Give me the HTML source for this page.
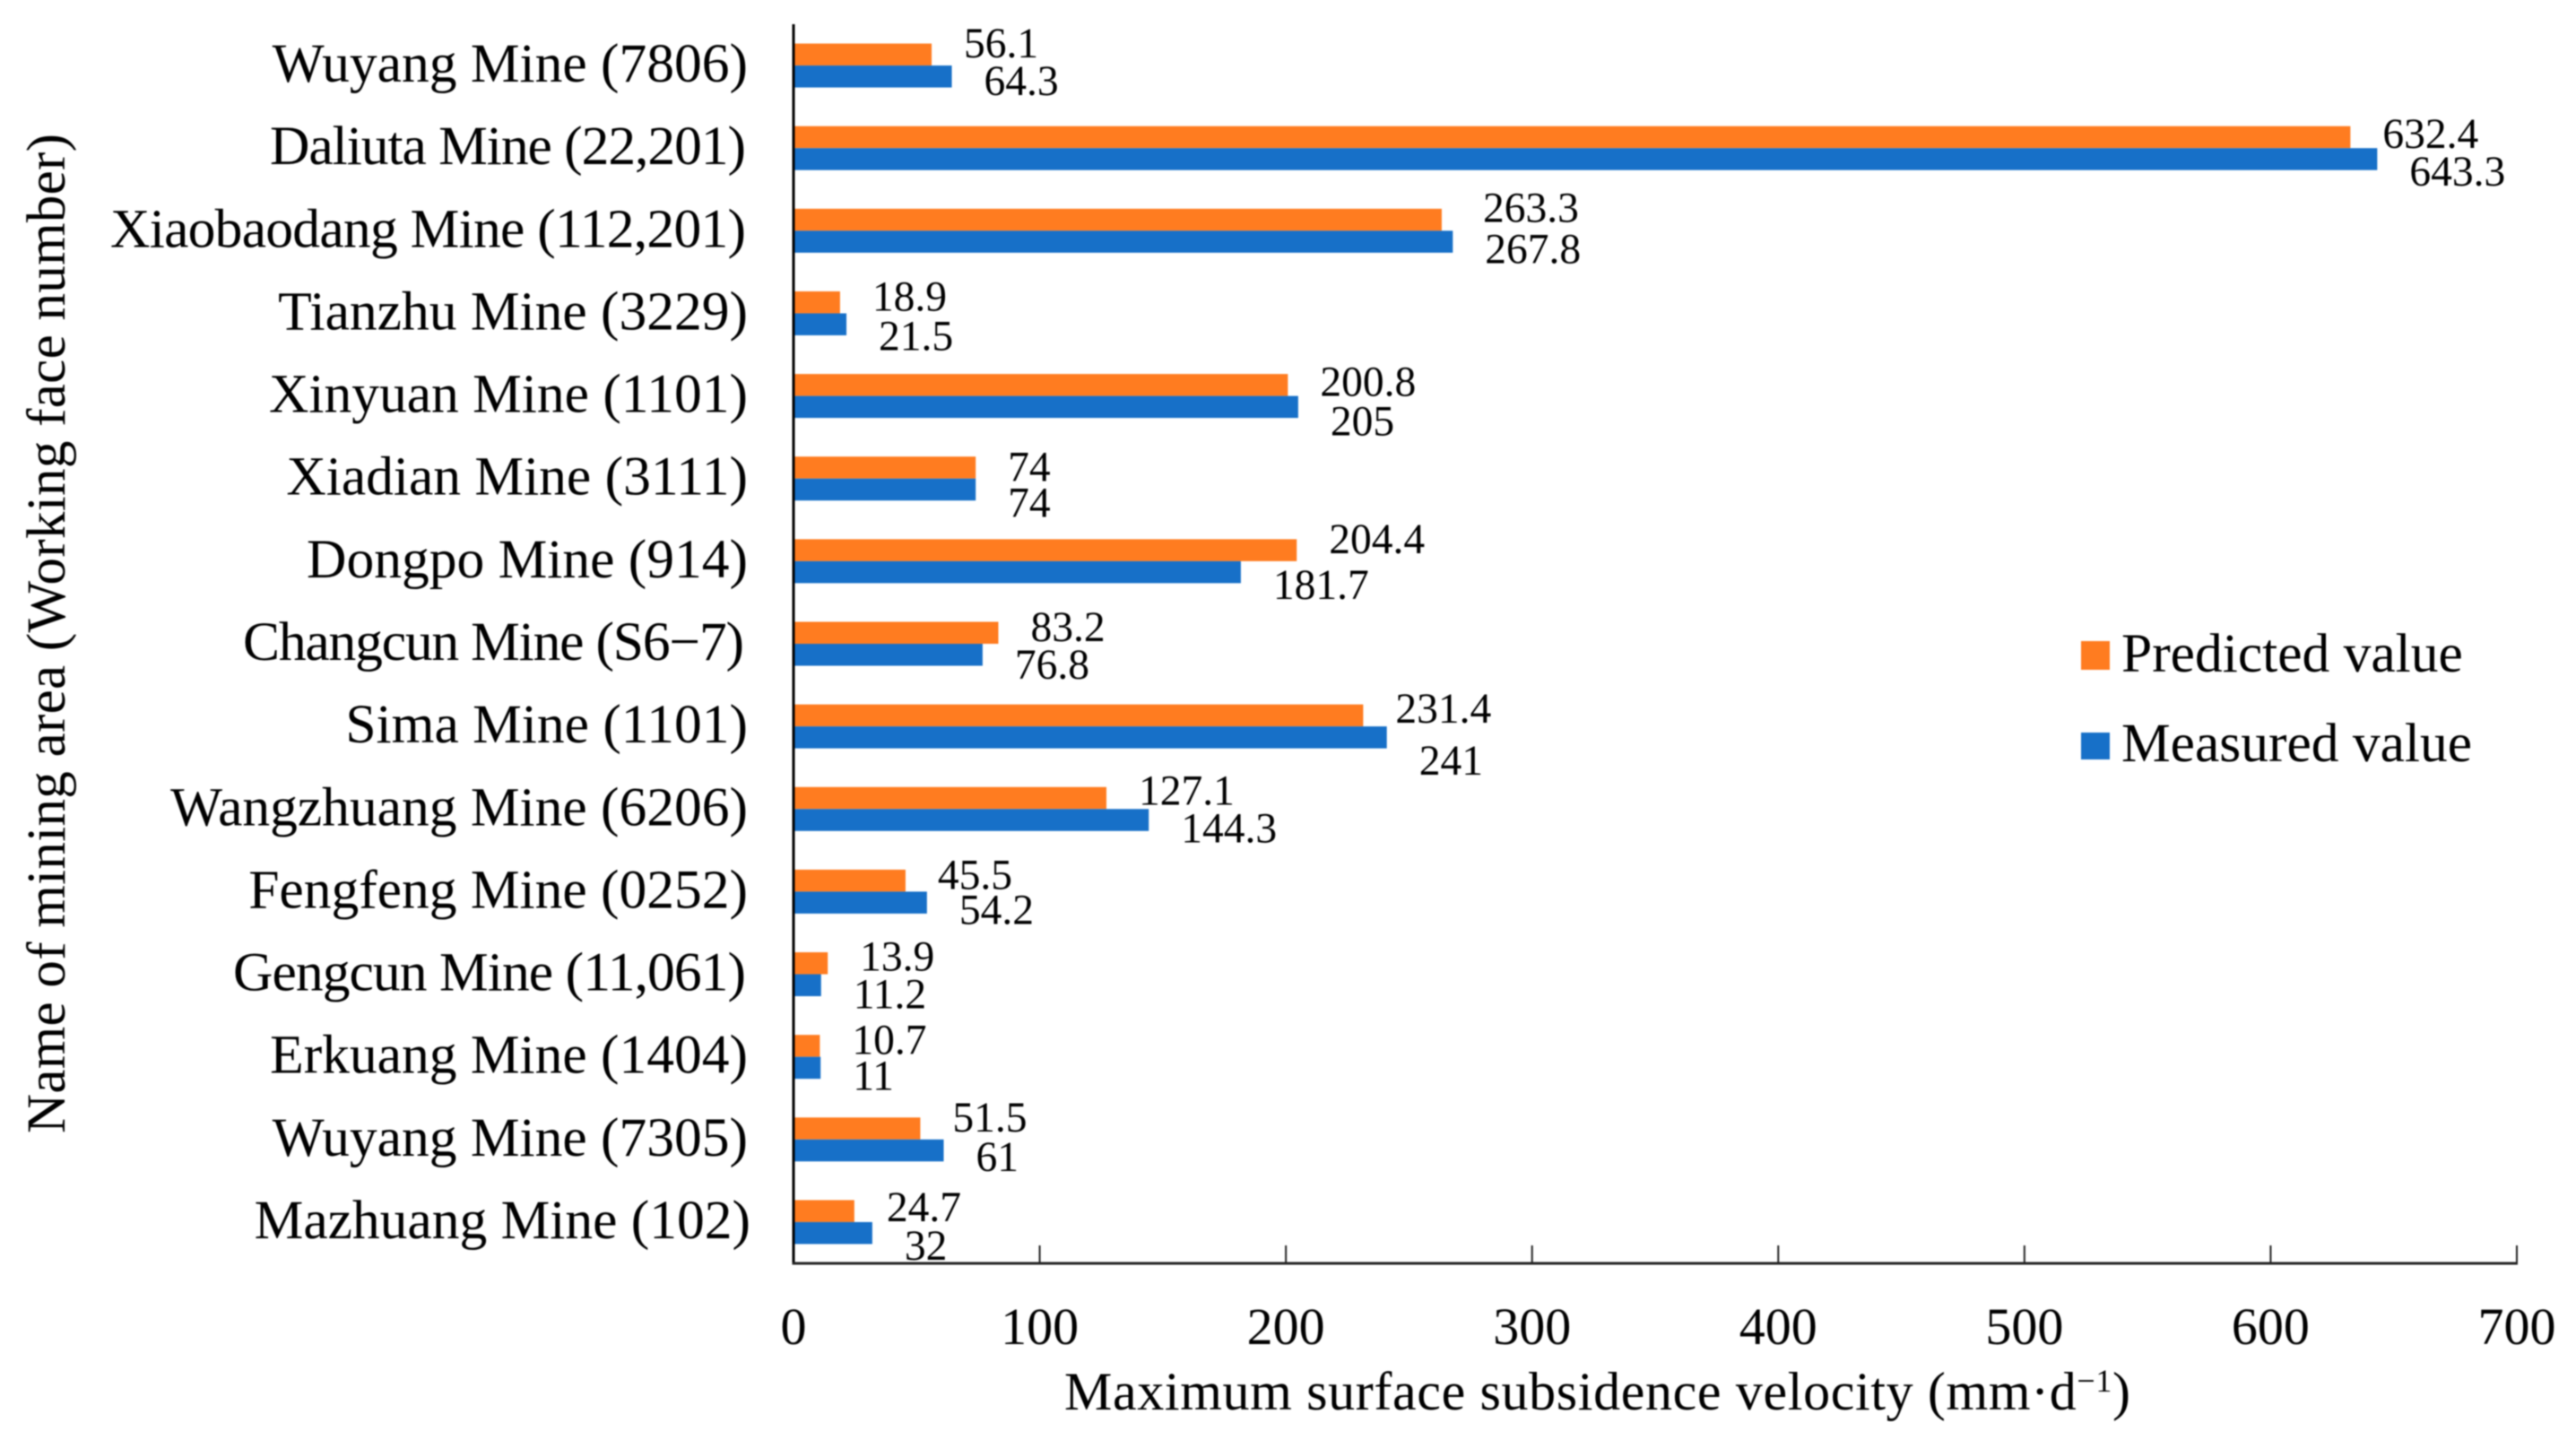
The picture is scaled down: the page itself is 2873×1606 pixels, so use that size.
<!DOCTYPE html>
<html lang="en">
<head>
<meta charset="utf-8">
<title>Maximum surface subsidence velocity by mining area</title>
<style>
  html, body { margin: 0; padding: 0; background: #fff; width: 2873px; height: 1606px; overflow: hidden; }
  svg { display: block; filter: blur(0.7px); }
  text { font-family: "Liberation Serif", "Times New Roman", serif; fill: #000; }
</style>
</head>
<body>
<svg id="chart" xmlns="http://www.w3.org/2000/svg" width="2873" height="1606" viewBox="0 0 2873 1606"></svg>
<script>
const categories = [
  "Wuyang Mine (7806)", "Daliuta Mine (22,201)", "Xiaobaodang Mine (112,201)", "Tianzhu Mine (3229)",
  "Xinyuan Mine (1101)", "Xiadian Mine (3111)", "Dongpo Mine (914)", "Changcun Mine (S6\u22127)",
  "Sima Mine (1101)", "Wangzhuang Mine (6206)", "Fengfeng Mine (0252)", "Gengcun Mine (11,061)",
  "Erkuang Mine (1404)", "Wuyang Mine (7305)", "Mazhuang Mine (102)"
];
const predictedValues = [56.1, 632.4, 263.3, 18.9, 200.8, 74, 204.4, 83.2, 231.4, 127.1, 45.5, 13.9, 10.7, 51.5, 24.7];
const measuredValues = [64.3, 643.3, 267.8, 21.5, 205, 74, 181.7, 76.8, 241, 144.3, 54.2, 11.2, 11, 61, 32];
const xTickValues = [0, 100, 200, 300, 400, 500, 600, 700];

(function () {
  const NS = "http://www.w3.org/2000/svg";
  const svg = document.getElementById("chart");
  const plot = { left: 885, right: 2807, top: 27, bottom: 1409 };
  const xMax = 700;
  const barH = 24.5;
  const ORANGE = "#ff7c20";
  const BLUE = "#1770c8";
  // hand placement of the data labels, as in the source figure
  const predDy = [-24, -15, -25, -18, -15, -12, -24, -18, -19, -20, -18, -19, -18, -24, -16];
  const measDy = [18, 27, 21, 26, 29, 28, 27, 24, 39, 22, 21, 23, 22, 20, 27];
  const predDx = { 2: 10 };
  // labels whose source text is set tighter: category index -> rendered width and right edge
  const squeezed = { 1: [531, 832], 2: [709, 832], 7: [559, 830], 11: [572, 832] };

  function xScale(v) { return plot.left + (v / xMax) * (plot.right - plot.left); }
  function bandCenter(i) {
    const band = (plot.bottom - plot.top) / categories.length;
    return plot.top + band * (i + 0.5);
  }
  function make(tag, attrs, parent) {
    const el = document.createElementNS(NS, tag);
    for (const k in attrs) el.setAttribute(k, attrs[k]);
    (parent || svg).appendChild(el);
    return el;
  }

  // bars and value labels
  categories.forEach(function (name, i) {
    const c = bandCenter(i);

    const predBar = make("rect", { x: plot.left, y: c - barH, width: xScale(predictedValues[i]) - plot.left, height: barH, fill: ORANGE });
    
    

    const measBar = make("rect", { x: plot.left, y: c, width: xScale(measuredValues[i]) - plot.left, height: barH, fill: BLUE });
    
    

    const predLabel = make("text", { x: xScale(predictedValues[i]) + 36 + (predDx[i] || 0), y: c + predDy[i] + 15, "font-size": 47.5, "text-anchor": "start" });
    predLabel.textContent = String(predictedValues[i]);
    
    

    const measLabel = make("text", { x: xScale(measuredValues[i]) + 36, y: c + measDy[i] + 15, "font-size": 47.5, "text-anchor": "start" });
    measLabel.textContent = String(measuredValues[i]);
    
    

    const fit = squeezed[i];
    const catAttrs = { x: fit ? fit[1] : (i === 14 ? 837 : 834), y: c + 18, "font-size": 61.5, "text-anchor": "end" };
    if (fit) {
      catAttrs.textLength = fit[0];
      catAttrs.lengthAdjust = "spacing";
    }
    const catLabel = make("text", catAttrs);
    catLabel.textContent = name;
    
    
  });

  // axes
  const yAxis = make("line", { x1: plot.left, x2: plot.left, y1: plot.top, y2: plot.bottom + 1.5, stroke: "#000", "stroke-width": 3 });
  
  

  const xAxis = make("line", { x1: plot.left - 1.5, x2: plot.right + 1, y1: plot.bottom, y2: plot.bottom, stroke: "#222", "stroke-width": 3 });
  
  

  xTickValues.forEach(function (t) {
    const px = xScale(t);
    if (t !== 0) {
      const tick = make("line", { x1: px, x2: px, y1: plot.bottom - 20, y2: plot.bottom, stroke: "#222", "stroke-width": 2 });
      
      
    }
    const tickLabel = make("text", { x: px, y: 1499, "font-size": 58, "text-anchor": "middle" });
    tickLabel.textContent = String(t);
    
    
  });

  // x-axis title
  const xTitle = make("text", { x: 1187, y: 1572, "font-size": 60, textLength: 1189, lengthAdjust: "spacing" });
  
  
  xTitle.appendChild(document.createTextNode("Maximum surface subsidence velocity (mm\u00b7d"));
  const sup = make("tspan", { dy: -20, "font-size": 36 }, xTitle);
  sup.textContent = "\u22121";
  const closeParen = make("tspan", { dy: 20 }, xTitle);
  closeParen.textContent = ")";

  // y-axis title
  const yTitle = make("text", { x: 0, y: 0, transform: "translate(72,1264) rotate(-90)", "font-size": 61, textLength: 1115, lengthAdjust: "spacing" });
  yTitle.textContent = "Name of mining area (Working face number)";
  
  

  // legend
  const predSwatch = make("rect", { x: 2321, y: 715, width: 32, height: 32, fill: ORANGE });
  
  

  const predText = make("text", { x: 2366, y: 749, "font-size": 61.5 });
  predText.textContent = "Predicted value";
  
  

  const measSwatch = make("rect", { x: 2321, y: 817, width: 32, height: 30, fill: BLUE });
  
  

  const measText = make("text", { x: 2366, y: 849, "font-size": 61.5 });
  measText.textContent = "Measured value";
  
  
})();
</script>
</body>
</html>
